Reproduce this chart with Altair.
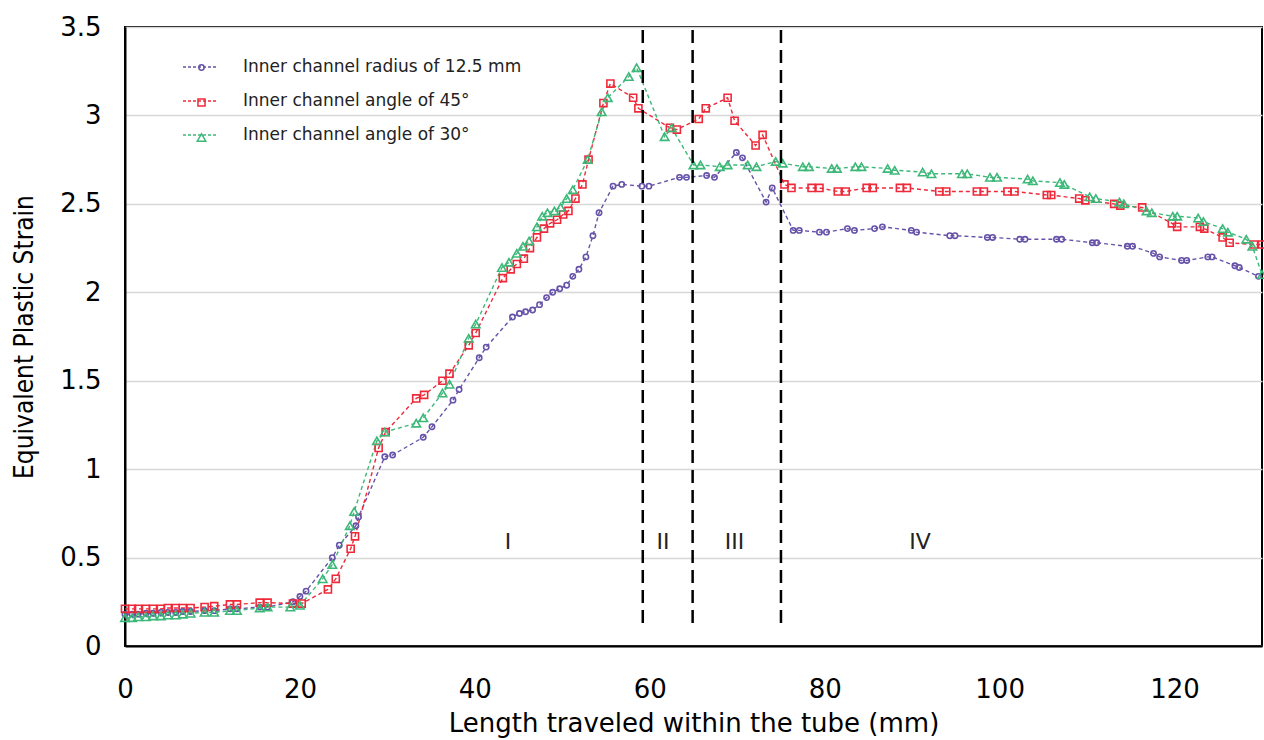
import altair as alt
import pandas as pd

series_names = ["Inner channel radius of 12.5 mm", "Inner channel angle of 45°", "Inner channel angle of 30°"]
marker_keys = ["radius marker", "45 marker", "30 marker"]
series_colors = ["#6652a8", "#ee2a3a", "#3cb878"]
series_shapes = ["circle", "square", "triangle-up"]
series_sizes = [28, 72, 50]

radius_x = [0, 0.8, 1.5, 2.4, 3.2, 4.1, 4.9, 5.8, 6.6, 7.5, 9.1, 10.2, 12.0, 12.8, 15.4, 16.3, 19.2, 20.0, 20.7,
            23.7, 24.5, 26.4, 26.7, 29.7, 30.6, 34.1, 35.1, 37.5, 38.2, 40.5, 41.3, 44.3, 45.1, 45.8, 46.6, 47.4,
            48.2, 48.9, 49.7, 50.5, 51.2, 51.9, 52.7, 53.5, 54.2, 55.8, 56.8, 59.1, 59.9, 63.4, 64.2, 66.5, 67.4,
            69.9, 70.6, 73.3, 74.0, 76.4, 77.1, 79.4, 80.2, 82.6, 83.4, 85.7, 86.6, 89.9, 90.5, 94.3, 94.9, 98.6,
            99.2, 102.3, 102.9, 106.5, 107.1, 110.6, 111.1, 114.6, 115.2, 117.6, 118.3, 120.8, 121.4, 123.8, 124.3,
            126.9, 127.4, 129.6]
radius_y = [0.18, 0.18, 0.18, 0.185, 0.185, 0.19, 0.19, 0.19, 0.195, 0.195, 0.2, 0.2, 0.21, 0.21, 0.22, 0.22, 0.25,
            0.28, 0.31, 0.50, 0.57, 0.68, 0.73, 1.07, 1.08, 1.18, 1.24, 1.39, 1.45, 1.63, 1.69, 1.86, 1.88, 1.89,
            1.90, 1.93, 1.97, 2.00, 2.02, 2.04, 2.09, 2.13, 2.20, 2.32, 2.45, 2.60, 2.61, 2.60, 2.60, 2.65, 2.65,
            2.66, 2.65, 2.79, 2.76, 2.51, 2.59, 2.35, 2.35, 2.34, 2.34, 2.36, 2.35, 2.36, 2.37, 2.35, 2.34, 2.32,
            2.32, 2.31, 2.31, 2.30, 2.30, 2.30, 2.30, 2.28, 2.28, 2.26, 2.26, 2.22, 2.20, 2.18, 2.18, 2.20, 2.20,
            2.15, 2.14, 2.09]

angle45_x = [0, 0.8, 1.5, 2.4, 3.2, 4.1, 4.9, 5.8, 6.6, 7.5, 9.1, 10.2, 12.0, 12.8, 15.4, 16.3, 19.2, 20.2,
             23.2, 24.1, 25.8, 26.3, 29.0, 29.8, 33.3, 34.2, 36.3, 37.1, 39.3, 40.1, 43.2, 44.1, 44.8, 45.6, 46.3,
             47.1, 47.9, 48.6, 49.4, 50.1, 50.7, 51.5, 52.3, 53.0, 54.7, 55.5, 58.1, 58.7, 62.3, 63.1, 65.6, 66.4,
             68.9, 69.7, 72.1, 72.9, 75.4, 76.2, 78.5, 79.4, 81.5, 82.4, 84.8, 85.5, 88.6, 89.4, 93.1, 93.9, 97.4,
             98.2, 100.9, 101.7, 105.4, 105.9, 109.1, 109.8, 113.1, 113.8, 116.3, 119.7, 120.3, 122.9, 123.4,
             125.5, 126.3, 129.1, 130]
angle45_y = [0.21, 0.21, 0.21, 0.21, 0.21, 0.21, 0.215, 0.215, 0.215, 0.215, 0.22, 0.225, 0.235, 0.235, 0.245,
             0.245, 0.24, 0.24, 0.32, 0.38, 0.55, 0.62, 1.12, 1.21, 1.40, 1.42, 1.50, 1.54, 1.70, 1.77, 2.08, 2.13,
             2.16, 2.19, 2.25, 2.31, 2.36, 2.39, 2.41, 2.44, 2.46, 2.53, 2.61, 2.75, 3.07, 3.18, 3.10, 3.04, 2.93,
             2.92, 2.98, 3.04, 3.10, 2.97, 2.83, 2.89, 2.61, 2.59, 2.59, 2.59, 2.57, 2.57, 2.59, 2.59, 2.59, 2.59,
             2.57, 2.57, 2.57, 2.57, 2.57, 2.57, 2.55, 2.55, 2.53, 2.52, 2.50, 2.49, 2.48, 2.39, 2.37, 2.37, 2.36,
             2.31, 2.28, 2.27, 2.27]

angle30_x = [0, 0.8, 1.5, 2.4, 3.2, 4.1, 4.9, 5.8, 6.6, 7.5, 9.1, 10.2, 12.0, 12.8, 15.4, 16.3, 18.9, 20.0,
             22.6, 23.7, 25.7, 26.2, 28.8, 29.7, 33.3, 34.1, 36.3, 37.1, 39.3, 40.1, 43.1, 43.9, 44.8, 45.5, 46.2,
             47.1, 47.7, 48.3, 49.1, 49.8, 50.5, 51.2, 52.9, 54.5, 55.2, 57.6, 58.5, 61.7, 62.5, 65.0, 65.8, 68.0,
             68.9, 71.2, 72.2, 74.4, 75.2, 77.5, 78.2, 80.8, 81.4, 83.5, 84.2, 87.2, 88.0, 91.2, 92.2, 95.7, 96.3,
             98.9, 99.7, 103.2, 103.8, 106.9, 107.4, 110.3, 111.0, 113.7, 114.2, 116.8, 117.4, 119.8, 120.3, 122.7,
             123.3, 125.5, 126.1, 128.2, 128.9, 130]
angle30_y = [0.16, 0.16, 0.165, 0.165, 0.17, 0.17, 0.175, 0.175, 0.18, 0.185, 0.19, 0.19, 0.2, 0.2, 0.215, 0.22,
             0.22, 0.23, 0.38, 0.46, 0.68, 0.76, 1.16, 1.21, 1.26, 1.29, 1.43, 1.48, 1.74, 1.82, 2.14, 2.17, 2.22,
             2.26, 2.29, 2.37, 2.43, 2.45, 2.46, 2.48, 2.53, 2.58, 2.75, 3.02, 3.10, 3.22, 3.27, 2.88, 2.93, 2.72,
             2.72, 2.71, 2.72, 2.72, 2.71, 2.74, 2.73, 2.71, 2.71, 2.70, 2.70, 2.71, 2.71, 2.70, 2.69, 2.68, 2.67,
             2.67, 2.67, 2.65, 2.65, 2.64, 2.63, 2.62, 2.61, 2.54, 2.53, 2.51, 2.50, 2.46, 2.45, 2.43, 2.43, 2.42,
             2.40, 2.36, 2.34, 2.30, 2.26, 2.10]

divider_x = [59.2, 64.9, 75.0]
divider_ymin = [0.13, 0.13, 0.13]
divider_ymax = [3.5, 3.5, 3.5]

region_labels = ["I", "II", "III", "IV"]
region_x = [43.8, 61.5, 69.7, 90.9]
region_y = [0.59, 0.59, 0.59, 0.59]

x_ticks = [0, 20, 40, 60, 80, 100, 120]
y_ticks = [0, 0.5, 1, 1.5, 2, 2.5, 3, 3.5]

frames = []
for name, key, xs, ys in zip(series_names, marker_keys, [radius_x, angle45_x, angle30_x],
                             [radius_y, angle45_y, angle30_y]):
    frames.append(pd.DataFrame({"x": xs, "y": ys, "series": name, "marker": key}))
df = pd.concat(frames, ignore_index=True)

div_df = pd.DataFrame({"x": divider_x, "y": divider_ymin, "y2": divider_ymax})
reg_df = pd.DataFrame({"label": region_labels, "x": region_x, "y": region_y})

xscale = alt.Scale(domain=[0, 130], nice=False, zero=False)
yscale = alt.Scale(domain=[0, 3.5], nice=False)

xaxis = alt.Axis(values=x_ticks, title="Length traveled within the tube (mm)", grid=False, ticks=False,
                 labelPadding=30, titlePadding=8, labelFont="DejaVu Sans", labelFontSize=26, labelFlush=False,
                 titleFont="DejaVu Sans", titleFontSize=26, titleFontWeight="normal",
                 domainColor="black", domainWidth=2, labelColor="black", titleColor="black")
yaxis = alt.Axis(values=y_ticks, title="Equivalent Plastic Strain", format="~g", grid=True, gridColor="#d8d8d8",
                 gridWidth=1.5, ticks=False, labelPadding=24, titlePadding=22, labelFont="DejaVu Sans",
                 labelFontSize=26, labelFlush=False, titleFont="DejaVu Sans Condensed", titleFontSize=26,
                 titleFontWeight="normal", domainColor="black", domainWidth=2, labelColor="black",
                 titleColor="black")

line_color_scale = alt.Scale(domain=series_names, range=series_colors)
point_color_scale = alt.Scale(domain=marker_keys, range=series_colors)
shape_scale = alt.Scale(domain=marker_keys, range=series_shapes)
size_scale = alt.Scale(domain=marker_keys, range=series_sizes)

line_legend = alt.Legend(orient="none", legendX=57, legendY=30, title=None, symbolType="stroke",
                         symbolSize=1089, symbolDash=[3, 2], symbolStrokeWidth=1.5, labelFont="DejaVu Sans",
                         labelFontSize=17, labelColor="#222222", labelOffset=26, clipHeight=20, rowPadding=14,
                         labelLimit=500)
point_legend = alt.Legend(orient="none", legendX=68, legendY=32, title=None, symbolSize=40,
                          symbolStrokeWidth=1.5, labelFontSize=17, labelExpr="''", labelOpacity=0,
                          rowPadding=17, labelLimit=500)

lines = alt.Chart(df).mark_line(strokeDash=[4, 3], strokeWidth=1.4).encode(
    x=alt.X("x:Q", scale=xscale, axis=xaxis),
    y=alt.Y("y:Q", scale=yscale, axis=yaxis),
    stroke=alt.Stroke("series:N", scale=line_color_scale, legend=line_legend, sort=series_names),
)

points = alt.Chart(df).mark_point(filled=False, strokeWidth=1.6, opacity=1).encode(
    x=alt.X("x:Q", scale=xscale),
    y=alt.Y("y:Q", scale=yscale),
    color=alt.Color("marker:N", scale=point_color_scale, legend=point_legend, sort=marker_keys),
    shape=alt.Shape("marker:N", scale=shape_scale, legend=point_legend, sort=marker_keys),
    size=alt.Size("marker:N", scale=size_scale, legend=None),
)

dividers = alt.Chart(div_df).mark_rule(color="black", strokeDash=[13, 7], strokeWidth=2.5).encode(
    x=alt.X("x:Q", scale=xscale),
    y=alt.Y("y:Q", scale=yscale),
    y2="y2:Q",
)

regions = alt.Chart(reg_df).mark_text(font="DejaVu Sans", fontSize=22, color="#222222").encode(
    x=alt.X("x:Q", scale=xscale),
    y=alt.Y("y:Q", scale=yscale),
    text="label:N",
)

chart = alt.layer(lines, points, dividers, regions).properties(
    width=1137, height=619,
    autosize=alt.AutoSizeParams(type="none"),
    padding={"left": 125, "top": 27, "right": 2, "bottom": 94},
    background="white",
).configure_view(stroke="black", strokeWidth=2)

chart.save("out.html", embed_options={"renderer": "svg", "actions": False})
